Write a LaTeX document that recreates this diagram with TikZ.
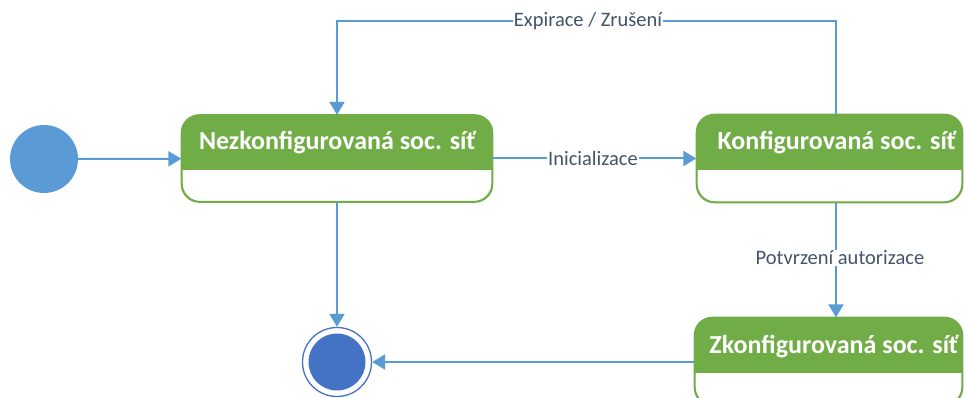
\documentclass[tikz,border=0pt]{standalone}
\usepackage{fontspec}
\setmainfont{Carlito}
\usetikzlibrary{arrows.meta}
\definecolor{flow}{HTML}{5B9BD5}
\definecolor{finalblue}{HTML}{4472C4}
\definecolor{hdr}{HTML}{70AD47}
\definecolor{lbltext}{HTML}{44546A}
\tikzset{
  statebox/.style={draw=hdr, line width=1.3pt, rounded corners=18pt, fill=white, inner sep=0pt},
  title/.style={text=white, font=\fontsize{26}{30}\selectfont\bfseries, anchor=base, inner sep=0pt},
  lbl/.style={fill=white, text=lbltext, font=\fontsize{20.5}{24}\selectfont, inner sep=1pt},
  flowline/.style={draw=flow, line width=2pt, -{Triangle[length=13pt,width=15pt]}},
}
\begin{document}
\begin{tikzpicture}[x=1pt,y=-1pt]
\useasboundingbox (0,0) rectangle (964,398);
\clip (0,0) rectangle (964,398);

% pseudo states
\node[circle, fill=flow, minimum size=68pt, inner sep=0pt] (init) at (44,159) {};
\node[circle, draw=finalblue, line width=1.3pt, minimum size=69pt, inner sep=0pt] (final) at (337,362) {};
\fill[finalblue] (final.center) circle (28.5);

% states: rounded box with a green title band
\newcommand{\statenode}[6]{%
  \node[statebox, minimum width=#3pt, minimum height=#4pt] (#1) at (#2) {};
  \begin{scope}
    \clip (#1.north west) rectangle (#1.east |- 0,#5);
    \fill[hdr, rounded corners=18pt] (#1.north west) rectangle (#1.south east);
  \end{scope}
  \draw[draw=hdr, line width=1.3pt, rounded corners=18pt] (#1.north west) rectangle (#1.south east);
  \node[title] at (#6) {\csname t#1\endcsname};
}
\newcommand{\tsa}{Nezkonfigurovaná soc. síť}
\newcommand{\tsb}{Konfigurovaná soc. síť}
\newcommand{\tsc}{Zkonfigurovaná soc. síť}
\statenode{sa}{337,158.5}{310}{86}{170}{337.5,150}
\statenode{sb}{829.5,158.5}{265}{87}{170}{837,150}
\statenode{sc}{828.5,361.5}{267}{87}{372}{834,353}

% helper coordinates for the orthogonal routes
\coordinate (tx) at (836,0);
\coordinate (top) at (0,21);

% transitions
\draw[flowline] (init) -- (sa);
\draw[flowline] (sa) -- (sb);
\node[lbl] at (593,158) {Inicializace};
\draw[flowline] (sb.north -| tx) |- (top -| sa.north) -- (sa.north);
\node[lbl] at (588,21) {Expirace / Zrušení};
\draw[flowline] (sb.south -| tx) -- (sc.north -| tx);
\node[lbl] at (840,258) {Potvrzení autorizace};
\draw[flowline] (sa.south) -- (final.north);
\draw[flowline] (sc.west |- final) -- (final.east);
\end{tikzpicture}
\end{document}
